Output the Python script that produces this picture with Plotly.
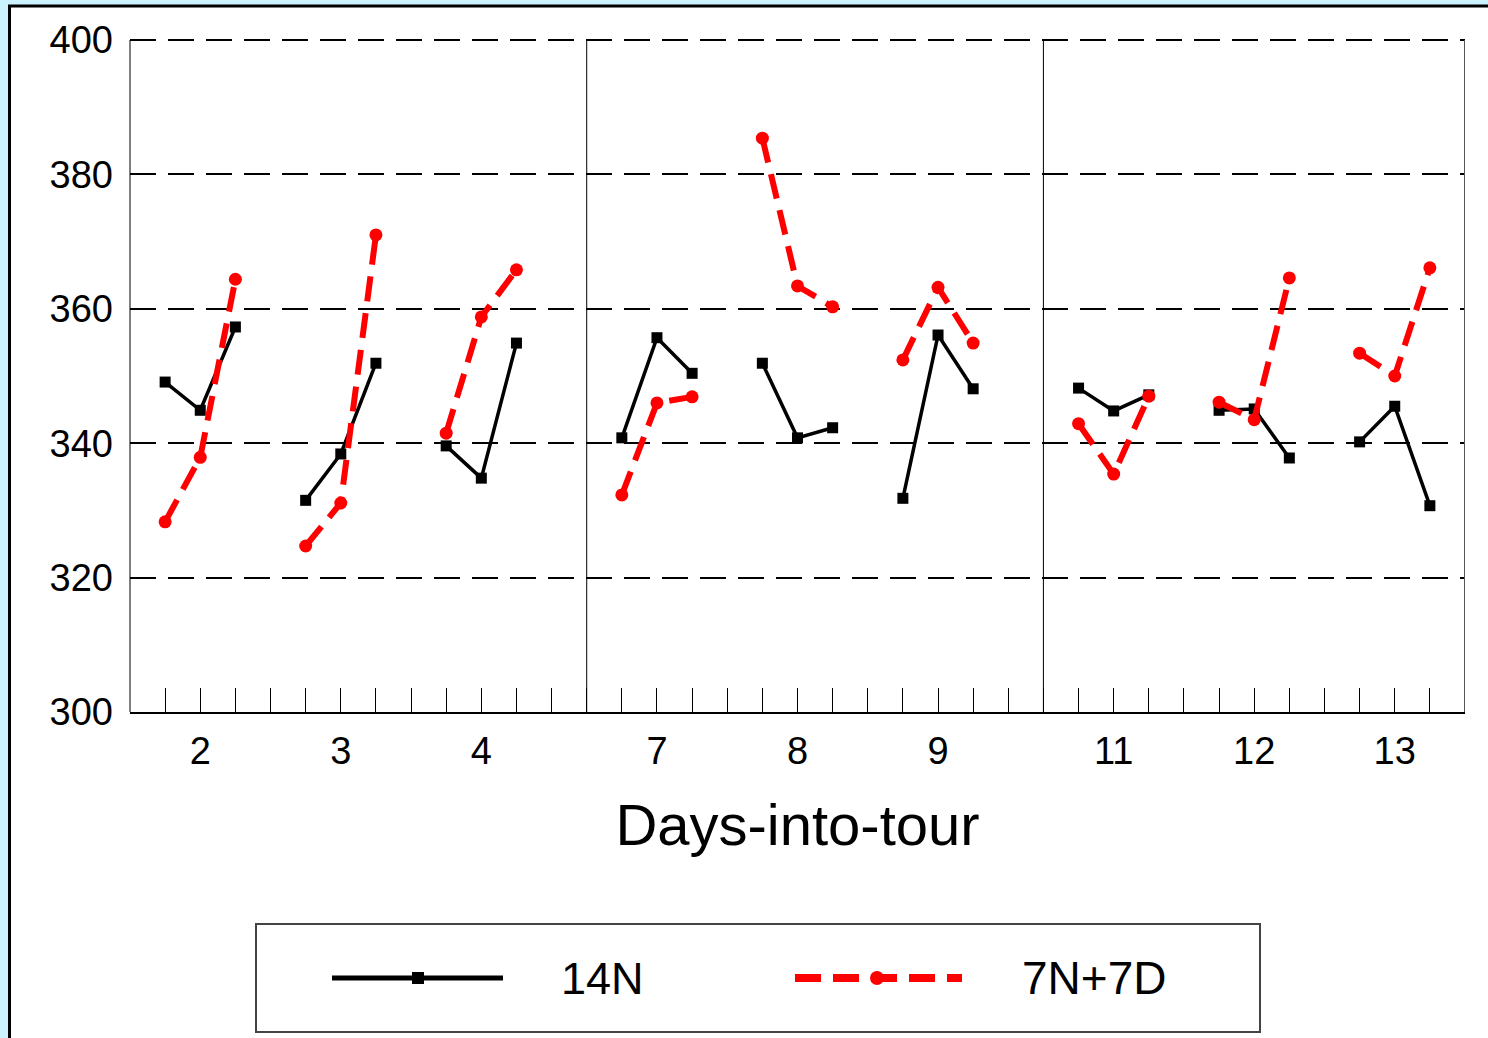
import plotly.graph_objects as go

# ---- data ----
days = [2, 3, 4, 7, 8, 9, 11, 12, 13]
# three readings per day (early, mid, late), in day order
series_14n = [349.1, 344.9, 357.3, 331.5, 338.4, 351.9, 339.6, 334.8, 354.9,
              340.8, 355.7, 350.4, 351.9, 340.8, 342.3, 331.8, 356.1, 348.1,
              348.2, 344.8, 347.2, 344.9, 345.1, 337.8, 340.2, 345.5, 330.7]
series_7n7d = [328.3, 337.9, 364.4, 324.7, 331.1, 371.0, 341.5, 358.8, 365.8,
               332.3, 346.0, 346.9, 385.4, 363.4, 360.3, 352.4, 363.2, 354.9,
               342.9, 335.4, 347.0, 346.1, 343.5, 364.6, 353.4, 350.0, 366.1]
y_ticks = [300, 320, 340, 360, 380, 400]
series_names = ["14N", "7N+7D"]

FONT = "Liberation Sans, Arial, sans-serif"
W, H = 1488, 1038
L, R, T, B = 130, 1465, 37, 712  # plot area in px (top padded so 400 grid line shows)
Y_RANGE = [300, 400.45]
GRID_DASH = "26px,12px"

# slot layout: 3 weeks x 3 days, 4 slots per day, 13 slots per week
def center(i):
    return 2 + 4 * (i % 3) + 13 * (i // 3)

centers = [center(i) for i in range(len(days))]

def build(vals):
    xs, ys = [], []
    for i in range(len(days)):
        c = centers[i]
        for k, off in enumerate((-1, 0, 1)):
            xs.append(c + off)
            ys.append(vals[3 * i + k])
        xs.append(None)
        ys.append(None)
    return xs, ys

fig = go.Figure()
x1, y1 = build(series_14n)
fig.add_trace(go.Scatter(x=x1, y=y1, mode="lines+markers", name=series_names[0],
                         line=dict(color="black", width=3.5),
                         marker=dict(symbol="square", size=11, color="black"),
                         connectgaps=False, showlegend=False))
x2, y2 = build(series_7n7d)
fig.add_trace(go.Scatter(x=x2, y=y2, mode="lines+markers", name=series_names[1],
                         line=dict(color="#FF0000", width=6, dash="25px,12px"),
                         marker=dict(symbol="circle", size=13, color="#FF0000"),
                         connectgaps=False, showlegend=False))

def px_x(px):
    return (px - L) / (R - L)

def px_y(py):
    return (B - py) / (B - T)

shapes = []
# white panel with black border
shapes.append(dict(type="rect", xref="paper", yref="paper", layer="below",
                   x0=px_x(9.5), x1=px_x(W + 20), y0=px_y(H + 20), y1=px_y(6),
                   fillcolor="white", line=dict(color="black", width=3)))
# week separators and right frame (stop at the 400 line)
for xv, col, w in ((13, "black", 1), (26, "black", 1), (38, "#555555", 2)):
    shapes.append(dict(type="line", xref="x", yref="y", x0=xv, x1=xv,
                       y0=Y_RANGE[0], y1=y_ticks[-1], line=dict(color=col, width=w)))
# left axis line up to 400
shapes.append(dict(type="line", xref="paper", yref="y", x0=0, x1=0,
                   y0=Y_RANGE[0], y1=y_ticks[-1], line=dict(color="black", width=1)))
# legend box
shapes.append(dict(type="rect", xref="paper", yref="paper",
                   x0=px_x(256), x1=px_x(1260), y0=px_y(1032), y1=px_y(924),
                   fillcolor="white", line=dict(color="#444444", width=2)))
ly = px_y(978)
shapes.append(dict(type="line", xref="paper", yref="paper", x0=px_x(332), x1=px_x(503),
                   y0=ly, y1=ly, line=dict(color="black", width=5)))
shapes.append(dict(type="rect", xref="paper", yref="paper", x0=px_x(412), x1=px_x(424),
                   y0=px_y(984), y1=px_y(972), fillcolor="black", line=dict(width=0)))
shapes.append(dict(type="line", xref="paper", yref="paper", x0=px_x(795), x1=px_x(962),
                   y0=ly, y1=ly, line=dict(color="#FF0000", width=8, dash="26px,12px")))
shapes.append(dict(type="circle", xref="paper", yref="paper", x0=px_x(870), x1=px_x(884),
                   y0=px_y(985), y1=px_y(971), fillcolor="#FF0000", line=dict(width=0)))

annotations = [
    dict(xref="paper", yref="paper", x=px_x(559), y=ly, text=series_names[0],
         showarrow=False, xanchor="left", yanchor="middle",
         font=dict(family=FONT, size=45, color="black")),
    dict(xref="paper", yref="paper", x=px_x(1020), y=ly, text=series_names[1],
         showarrow=False, xanchor="left", yanchor="middle",
         font=dict(family=FONT, size=46, color="black")),
]

fig.update_layout(
    width=W, height=H,
    margin=dict(l=L, r=W - R, t=T, b=H - B, autoexpand=False),
    paper_bgcolor="#CCF2FF", plot_bgcolor="white",
    font=dict(family=FONT, color="black"),
    shapes=shapes, annotations=annotations, showlegend=False,
)
fig.update_xaxes(
    range=[0, 38], tickmode="array", tickvals=centers, ticktext=[str(d) for d in days],
    ticks="inside", ticklen=24, tickwidth=1, tickcolor="black",
    minor=dict(tickmode="array", tickvals=list(range(0, 39)), ticks="inside",
               ticklen=24, tickwidth=1, tickcolor="black"),
    showline=True, linecolor="black", linewidth=2, showgrid=False, zeroline=False,
    tickfont=dict(family=FONT, size=38, color="black"), ticklabelstandoff=4,
    title=dict(text="Days-into-tour", font=dict(family=FONT, size=58, color="black"),
               standoff=34),
)
fig.update_yaxes(
    range=Y_RANGE, tickmode="array", tickvals=y_ticks,
    ticks="", showline=False,
    showgrid=True, gridcolor="black", gridwidth=1.5, griddash=GRID_DASH,
    zeroline=False, tickfont=dict(family=FONT, size=38, color="black"),
    ticklabelstandoff=16,
)

fig.write_html("out.html")
